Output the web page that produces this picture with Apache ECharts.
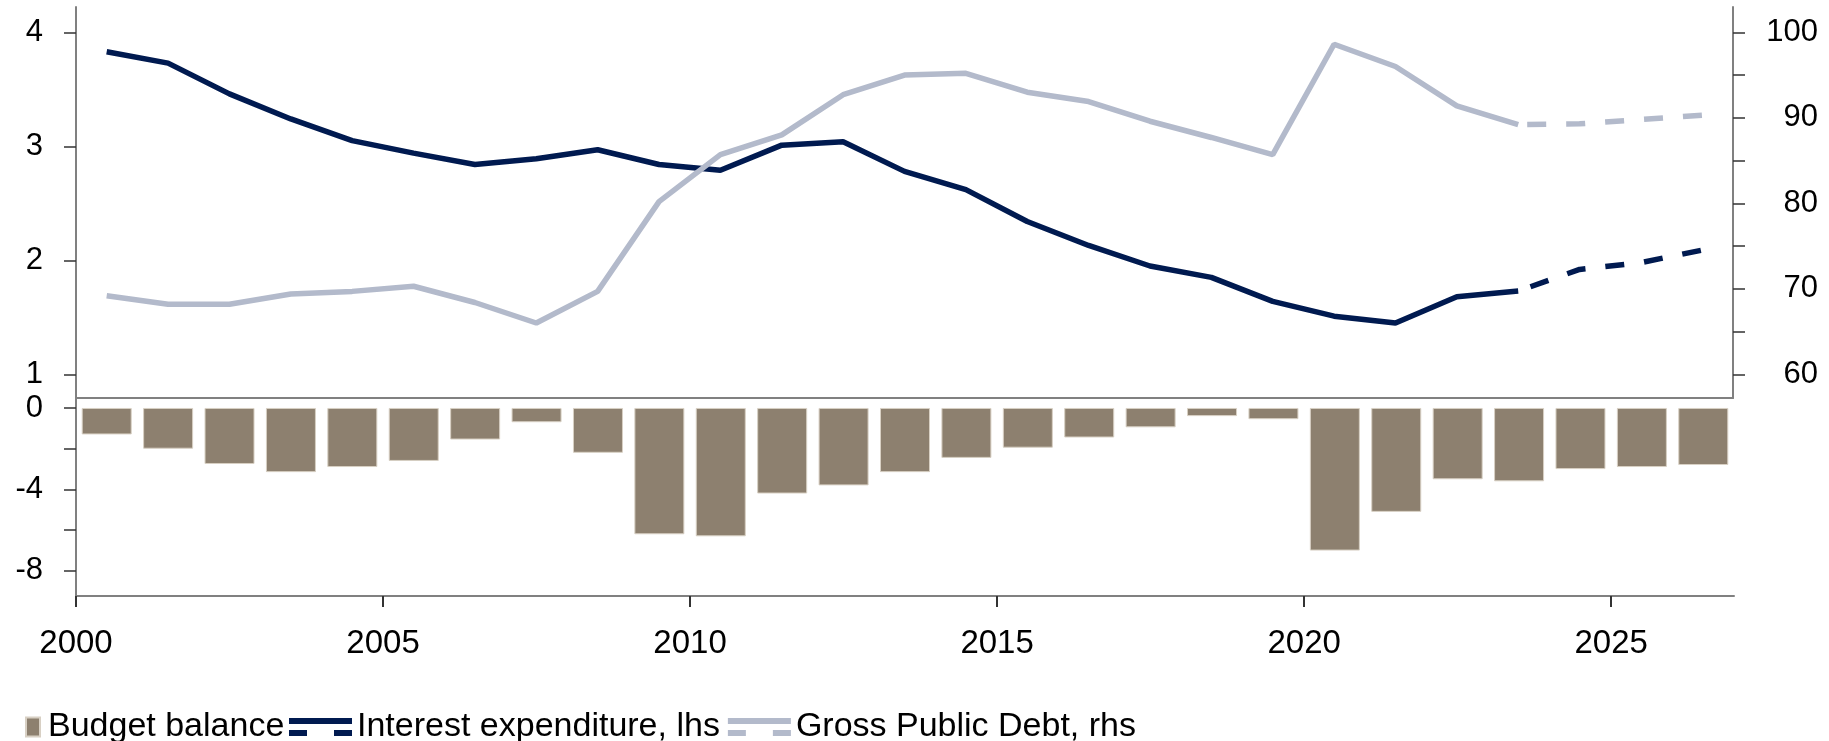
<!DOCTYPE html>
<html>
<head>
<meta charset="utf-8">
<script src="https://cdn.jsdelivr.net/npm/echarts@6.0.0/dist/echarts.min.js"></script>
<style>
  html, body { margin: 0; padding: 0; background: #fff; }
  #budget_chart { width: 1829px; height: 741px; }
</style>
</head>
<body>
<div id="budget_chart"></div>
<script>
// data
var years = [2000, 2001, 2002, 2003, 2004, 2005, 2006, 2007, 2008, 2009,
  2010, 2011, 2012, 2013, 2014, 2015, 2016, 2017, 2018, 2019,
  2020, 2021, 2022, 2023, 2024, 2025, 2026]
var budgetBalance = [-1.3, -2.0, -2.75, -3.15, -2.9, -2.6, -1.55, -0.7, -2.2, -6.2,
  -6.3, -4.2, -3.8, -3.15, -2.45, -1.95, -1.45, -0.95, -0.4, -0.55,
  -7.0, -5.1, -3.5, -3.6, -3.0, -2.9, -2.8]
var interestExp = [3.83, 3.73, 3.46, 3.24, 3.05, 2.94, 2.84, 2.89, 2.97, 2.84,
  2.79, 3.01, 3.04, 2.78, 2.62, 2.34, 2.13, 1.95, 1.85, 1.64,
  1.51, 1.45, 1.68, 1.73, 1.92, 1.98, 2.09]
var grossDebt = [69.2, 68.2, 68.2, 69.4, 69.7, 70.3, 68.4, 66.0, 69.7, 80.2,
  85.7, 88.0, 92.7, 95.0, 95.2, 93.0, 91.9, 89.6, 87.7, 85.7,
  98.6, 96.0, 91.4, 89.2, 89.3, 89.8, 90.3]
var lastActualYear = 2023

var yearTicks = [2000, 2005, 2010, 2015, 2020, 2025]
var lhsTicks = [1, 2, 3, 4]
var rhsTicks = [60, 65, 70, 75, 80, 85, 90, 95, 100]
var rhsLabels = [60, 70, 80, 90, 100]
var balanceTicks = [-8, -6, -4, -2, 0]
var balanceLabels = [-8, -4, 0]

var FONT = "'Liberation Sans', Arial, sans-serif"
var NAVY = '#001a50'
var GREY = '#b3bacb'
var BROWN = '#8d806f'
var AXIS = '#808080'

// each value sits in the middle of its year
function toPoints (vals, from, to) {
  return vals.map(function (v, i) {
    var y = years[i]
    var keep = (from == null || y >= from) && (to == null || y <= to)
    return [y + 0.5, keep ? v : null]
  })
}

var chart = echarts.init(document.getElementById('budget_chart'))

var axisLine = { show: true, onZero: false, lineStyle: { color: AXIS, width: 2 } }
var plain = function (v) { return String(v) }
var labelStyle = { color: '#000', fontFamily: FONT, fontSize: 31, formatter: plain }

var option = {
  animation: false,
  grid: [
    { left: 76, right: 96, top: 7, height: 391 },
    { left: 76, right: 95, top: 399, height: 197 }
  ],
  legend: [
    {
      left: 20, top: 705,
      itemWidth: 14, itemHeight: 19,
      icon: 'rect',
      data: ['Budget balance'],
      textStyle: { color: '#000', fontFamily: FONT, fontSize: 34, padding: [0, 0, 0, 3] }
    },
    {
      left: 284, top: 705,
      itemWidth: 63, itemHeight: 18, itemGap: 8,
      icon: 'path://M0,0H63V6H0Z M0,12H18V18H0Z M45,12H63V18H45Z',
      data: ['Interest expenditure, lhs', 'Gross Public Debt, rhs'],
      textStyle: { color: '#000', fontFamily: FONT, fontSize: 34 }
    }
  ],
  xAxis: [
    {
      type: 'value', gridIndex: 0, min: 2000, max: 2027,
      axisLine: axisLine, axisTick: { show: false }, axisLabel: { show: false },
      splitLine: { show: false }
    },
    {
      type: 'value', gridIndex: 1, min: 2000, max: 2027,
      axisLine: axisLine,
      axisTick: { show: true, length: 11, lineStyle: { color: '#333', width: 2 }, customValues: yearTicks },
      axisLabel: Object.assign({}, labelStyle, { margin: 31, fontSize: 33, customValues: yearTicks }),
      splitLine: { show: false }
    }
  ],
  yAxis: [
    {
      type: 'value', gridIndex: 0, position: 'left', min: 0.792, max: 4.222,
      axisLine: axisLine,
      axisTick: { show: true, length: 12, lineStyle: { color: '#333', width: 1.5 }, customValues: lhsTicks },
      axisLabel: Object.assign({}, labelStyle, { margin: 33, customValues: lhsTicks }),
      splitLine: { show: false }
    },
    {
      type: 'value', gridIndex: 0, position: 'right', min: 57.23, max: 102.96,
      axisLine: axisLine,
      axisTick: { show: true, length: 12, lineStyle: { color: '#333', width: 1.5 }, customValues: rhsTicks },
      axisLabel: Object.assign({}, labelStyle, { margin: 85, align: 'right', customValues: rhsLabels }),
      splitLine: { show: false }
    },
    {
      type: 'value', gridIndex: 1, position: 'left', min: -9.23, max: 0.44,
      axisLine: axisLine,
      axisTick: { show: true, length: 12, lineStyle: { color: '#333', width: 1.5 }, customValues: balanceTicks },
      axisLabel: Object.assign({}, labelStyle, { margin: 33, customValues: balanceLabels }),
      splitLine: { show: false }
    }
  ],
  series: [
    {
      name: 'Budget balance', type: 'bar',
      xAxisIndex: 1, yAxisIndex: 2,
      barWidth: 50,
      itemStyle: { color: BROWN, borderColor: '#d8d0c4', borderWidth: 1 },
      data: toPoints(budgetBalance)
    },
    {
      name: 'Interest expenditure, lhs', type: 'line',
      xAxisIndex: 0, yAxisIndex: 0, symbol: 'none',
      itemStyle: { color: NAVY },
      lineStyle: { color: NAVY, width: 5.5 },
      data: toPoints(interestExp, null, lastActualYear)
    },
    {
      name: 'Interest expenditure, lhs', type: 'line',
      xAxisIndex: 0, yAxisIndex: 0, symbol: 'none',
      itemStyle: { color: NAVY },
      lineStyle: { color: NAVY, width: 5.5, type: [19, 20], dashOffset: 26 },
      data: toPoints(interestExp, lastActualYear, null)
    },
    {
      name: 'Gross Public Debt, rhs', type: 'line',
      xAxisIndex: 0, yAxisIndex: 1, symbol: 'none',
      itemStyle: { color: GREY },
      lineStyle: { color: GREY, width: 5.5 },
      data: toPoints(grossDebt, null, lastActualYear)
    },
    {
      name: 'Gross Public Debt, rhs', type: 'line',
      xAxisIndex: 0, yAxisIndex: 1, symbol: 'none',
      itemStyle: { color: GREY },
      lineStyle: { color: GREY, width: 5.5, type: [19, 20], dashOffset: 30 },
      data: toPoints(grossDebt, lastActualYear, null)
    }
  ]
}

chart.setOption(option)
window.onresize = chart.resize
</script>
</body>
</html>
